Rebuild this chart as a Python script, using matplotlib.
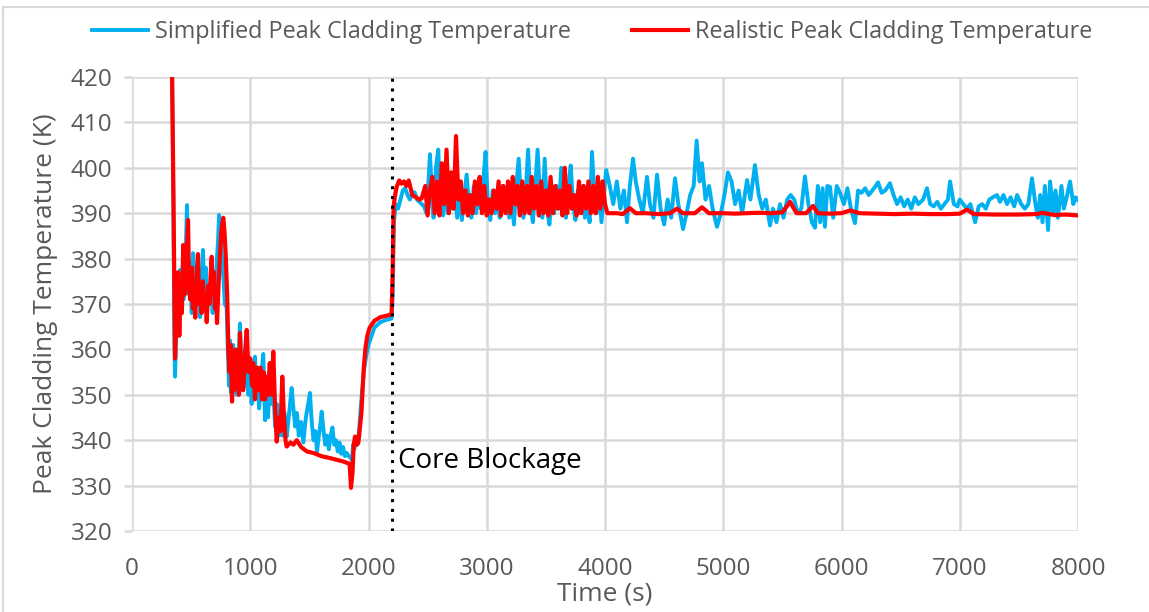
import matplotlib.pyplot as plt
from matplotlib.patches import Rectangle

# Simplified model: peak cladding temperature (K) vs time (s)
simplified_t = [
    336, 350, 358, 364, 372, 380, 390, 398, 406, 415, 425, 435, 445, 455, 465, 473,
    482, 492, 505, 516, 526, 536, 546, 556, 566, 575, 585, 600, 612, 624, 635, 646,
    658, 670, 682, 694, 706, 718, 728, 736, 745, 755, 765, 775, 785, 800, 810, 820,
    828, 836, 846, 855, 865, 875, 885, 895, 905, 913, 925, 935, 948, 960, 972, 985,
    1000, 1012, 1025, 1040, 1052, 1062, 1075, 1090, 1100, 1110, 1125, 1138, 1150,
    1165, 1180, 1195, 1210, 1225, 1240, 1255, 1270, 1290, 1308, 1325, 1350, 1365,
    1380, 1395, 1410, 1430, 1449, 1470, 1490, 1505, 1520, 1535, 1550, 1565, 1580,
    1595, 1604, 1620, 1635, 1650, 1665, 1680, 1695, 1710, 1725, 1740, 1755, 1770,
    1785, 1800, 1816, 1830, 1845, 1860, 1870, 1880, 1890, 1905, 1920, 1940, 1960,
    1980, 2000, 2050, 2100, 2150, 2195, 2205, 2215, 2230, 2250, 2270, 2290, 2310,
    2330, 2350, 2370, 2390, 2410, 2430, 2450, 2470, 2490, 2505, 2520, 2535, 2550,
    2570, 2590, 2610, 2630, 2650, 2670, 2690, 2710, 2730, 2750, 2770, 2790, 2810,
    2830, 2850, 2870, 2890, 2910, 2930, 2950, 2970, 2990, 3010, 3030, 3050, 3070,
    3090, 3110, 3130, 3150, 3170, 3190, 3210, 3230, 3250, 3270, 3290, 3310, 3330,
    3350, 3370, 3390, 3410, 3430, 3450, 3470, 3490, 3510, 3530, 3550, 3570, 3590,
    3610, 3630, 3650, 3670, 3690, 3710, 3730, 3750, 3770, 3790, 3810, 3830, 3850,
    3870, 3890, 3910, 3930, 3950, 3970, 3990, 4010, 4040, 4070, 4100, 4130, 4160,
    4186, 4210, 4237, 4260, 4290, 4320, 4355, 4380, 4410, 4440, 4470, 4500, 4530,
    4560, 4592, 4620, 4660, 4690, 4720, 4750, 4775, 4800, 4820, 4850, 4880, 4910,
    4947, 4980, 5010, 5040, 5070, 5100, 5130, 5160, 5201, 5230, 5268, 5300, 5330,
    5360, 5395, 5420, 5450, 5480, 5510, 5540, 5570, 5600, 5630, 5660, 5691, 5720,
    5750, 5776, 5800, 5820, 5840, 5860, 5880, 5903, 5930, 5960, 5987, 6020, 6050,
    6080, 6114, 6140, 6170, 6200, 6230, 6260, 6290, 6309, 6340, 6370, 6410, 6440,
    6470, 6500, 6530, 6560, 6590, 6620, 6650, 6690, 6723, 6750, 6780, 6810, 6840,
    6870, 6900, 6918, 6950, 6980, 7000, 7030, 7060, 7090, 7130, 7160, 7190, 7220,
    7250, 7280, 7315, 7340, 7370, 7400, 7430, 7460, 7485, 7520, 7550, 7580, 7611,
    7640, 7660, 7680, 7700, 7720, 7747, 7764, 7790, 7810, 7830, 7860, 7880, 7900,
    7933, 7960, 7980, 8000,
]
simplified_T = [
    428, 392, 362, 354, 362, 370, 364, 372, 377.5, 369, 376, 371, 378, 382, 391.8, 380,
    372, 379, 368, 381.2, 373, 378, 370, 376, 371, 367.1, 374, 381.9, 373, 378, 368, 374,
    370, 376, 368, 374, 372, 380, 384, 389.6, 387, 383, 378, 375, 370, 369.3, 360, 352,
    362, 350.5, 356, 361, 352, 357, 350, 356, 360, 365.7, 356, 351, 358, 352, 356, 350,
    355, 348, 356, 358.4, 351, 354, 347, 352, 356, 359, 344.4, 350, 345,
    353, 348, 351, 343, 348, 341, 345, 341, 346, 340.8, 345, 351.5, 347,
    343, 346, 341, 344, 339.5, 345, 348, 350.4, 344, 340, 342, 337.5, 341,
    344, 346.3, 342, 339, 341, 338, 341, 342.8, 339, 340, 337.5, 339.5, 337,
    338.5, 336.5, 337.2, 336.5, 336.3, 335.5, 339, 338, 340, 339, 342, 349, 355,
    358.5, 361, 364.8, 366, 366.5, 366.8, 372, 388, 392, 391, 393, 395, 395.5,
    394, 393, 394.5, 394.6, 393, 392.5, 392, 391.5, 390, 396, 403, 395, 389,
    400, 404, 391, 389.5, 396, 390, 398, 391, 395, 389, 393, 388.5, 394,
    398.5, 392, 389, 396, 390, 394, 391, 397, 403.5, 392, 388.5, 395, 390,
    393, 389, 396, 391, 394, 389, 393, 387.5, 396, 402, 393, 389, 395,
    404, 392, 388, 396, 404, 394, 389, 402, 391, 387.5, 394, 390, 396,
    391, 400, 393, 389, 396, 400.5, 392, 388.5, 395, 390, 396, 389, 393,
    388, 403.5, 394, 390, 396, 388, 394, 399.5, 396, 392, 397, 391, 395,
    388, 396, 402, 397, 393, 390, 398, 392, 389, 398.5, 391, 387.5, 393,
    389, 397.7, 392, 386.5, 390, 394, 396, 406, 397, 401, 393, 396, 391,
    387, 390, 394, 399, 397, 392, 395, 390, 397.3, 393, 400.6, 394, 391,
    393, 387.3, 391, 388, 392, 389, 393, 394, 393, 390, 391, 398.1, 392,
    388, 386.8, 396, 388, 395.5, 387, 396, 395.8, 389, 396, 394.5, 392, 395.5,
    391, 387.8, 395, 394.5, 395.5, 394, 395, 396, 396.8, 394.5, 395, 396.6, 394,
    392, 393.5, 391.5, 393, 391, 393.5, 392, 393, 395.5, 392, 391.5, 392.5, 391,
    392, 393, 397, 392, 391.5, 393, 392, 391, 392, 388, 391.5, 392, 391,
    393, 393.5, 394, 392.5, 394, 392, 393.5, 391.5, 394, 392, 391, 392, 397.7,
    392, 389, 394, 388, 396, 386.3, 397, 390, 395, 389, 396, 391, 393,
    397, 392, 393.5, 392.9,
]

# Realistic model: peak cladding temperature (K) vs time (s)
realistic_t = [
    336, 350, 364, 375, 390, 400, 412, 422, 433, 442, 450, 462, 474, 482, 492, 505,
    515, 525, 535, 545, 558, 568, 578, 589, 600, 612, 622, 632, 644, 655, 664, 674,
    684, 693, 702, 712, 719, 730, 742, 755, 765, 772, 782, 792, 805, 815, 825, 835,
    846, 855, 865, 875, 885, 895, 905, 913, 925, 941, 955, 970, 985, 1000, 1015,
    1025, 1040, 1055, 1070, 1085, 1100, 1112, 1125, 1138, 1150, 1165, 1180, 1195,
    1210, 1224, 1240, 1255, 1271, 1285, 1298, 1308, 1340, 1365, 1393, 1430, 1480,
    1533, 1600, 1700, 1787, 1840, 1852, 1865, 1875, 1886, 1900, 1914, 1940, 1960,
    1975, 1990, 2010, 2050, 2100, 2150, 2195, 2205, 2212, 2225, 2238, 2260, 2280,
    2300, 2320, 2340, 2370, 2400, 2430, 2450, 2480, 2500, 2520, 2540, 2560, 2580,
    2600, 2620, 2640, 2660, 2680, 2700, 2720, 2740, 2760, 2780, 2800, 2820, 2840,
    2860, 2880, 2900, 2920, 2940, 2960, 2980, 3000, 3020, 3040, 3060, 3080, 3100,
    3120, 3140, 3160, 3180, 3200, 3220, 3240, 3260, 3280, 3300, 3320, 3340, 3360,
    3380, 3400, 3420, 3440, 3460, 3480, 3500, 3520, 3540, 3560, 3580, 3600, 3620,
    3640, 3660, 3680, 3700, 3720, 3740, 3760, 3780, 3800, 3820, 3840, 3860, 3880,
    3900, 3920, 3940, 3960, 3980, 4000, 4020, 4100, 4150, 4211, 4260, 4350, 4450,
    4550, 4609, 4660, 4760, 4820, 4880, 5000, 5100, 5200, 5300, 5400, 5500, 5565,
    5620, 5700, 5759, 5800, 5900, 6000, 6072, 6150, 6300, 6450, 6600, 6750, 6900,
    7000, 7061, 7120, 7300, 7500, 7650, 7700, 7800, 7900, 8000,
]
realistic_T = [
    428, 395, 358, 367, 377, 363, 375, 368, 383, 372, 372.5, 380, 388.5, 375, 371, 378,
    369, 374, 367, 376, 381, 370, 374, 368, 375, 369, 372, 366, 374, 370, 376, 380.4,
    372, 377, 369, 372, 365.8, 373, 380, 386, 388, 389, 386, 381, 372, 360, 355, 361,
    348.5, 356, 351, 360, 353, 358, 350, 363.6, 353, 351, 359, 364.3, 355, 358, 352,
    357, 349, 356, 351, 356, 349, 355, 349, 354, 350, 357, 350, 359.5,
    347, 339.7, 345, 342, 354, 345, 340, 338.6, 339.5, 339, 340, 338.5, 337.5,
    337.2, 336.5, 335.9, 335.3, 334.8, 329.5, 333, 339, 340.8, 339, 339.4, 346, 356,
    360.5, 363, 364.8, 366.3, 367.1, 367.4, 367.7, 378, 391.4, 394, 395.8, 397.2, 396.5,
    397, 396, 397.2, 394, 393.5, 393, 393.3, 396, 389.5, 395, 398, 390, 397,
    389.5, 401, 392, 404, 390, 399, 391, 407, 393, 397, 390, 395, 389.5,
    394, 390, 397, 392, 398, 390, 396, 389.5, 393, 390, 395, 391, 397,
    389.5, 396, 390, 397, 390, 398, 392, 396, 389.5, 397, 390, 396, 390,
    398, 391, 396, 389.5, 397, 390, 395, 389.5, 398, 390, 396, 391, 395,
    389.5, 400, 390, 396, 391, 394, 389.5, 397, 390, 396, 391, 397, 390,
    396, 390, 398, 391, 397, 392, 390, 390, 389.8, 391.1, 390, 390, 389.8,
    390, 391, 390, 390, 391.3, 390, 390, 389.9, 390, 390.1, 390, 390.2, 392.5,
    390, 390, 391.6, 390, 389.9, 390, 390.6, 390, 389.9, 389.8, 389.9, 389.8, 389.8,
    389.9, 390.8, 389.8, 389.7, 389.7, 389.8, 390.1, 389.6, 389.7, 389.5,
]

blockage_time = 2200
x_ticks = [0, 1000, 2000, 3000, 4000, 5000, 6000, 7000, 8000]
y_ticks = [320, 330, 340, 350, 360, 370, 380, 390, 400, 410, 420]

plt.rcParams["font.family"] = ["Open Sans", "DejaVu Sans"]
label_color = "#595959"
grid_color = "#d9d9d9"

fig = plt.figure(figsize=(11.49, 6.12), dpi=100)
ax = fig.add_axes([132 / 1149, 1 - 531 / 612, (1078 - 132) / 1149, (531 - 77) / 612])

# outer chart border
fig.patches.append(Rectangle((3 / 1149, -0.05), 1.2, 1 - 7 / 612 + 0.05,
                             transform=fig.transFigure, fill=False,
                             edgecolor=grid_color, linewidth=1.5))

ax.plot(simplified_t, simplified_T, color="#00b0f0", lw=2.8,
        label="Simplified Peak Cladding Temperature", zorder=3)
ax.plot(realistic_t, realistic_T, color="#ff0000", lw=3.0,
        label="Realistic Peak Cladding Temperature", zorder=4)
ax.axvline(blockage_time, color="black", lw=2.2, ls=(0, (1, 2.2)), zorder=5)
ax.text(blockage_time + 50, 335.4, "Core Blockage", fontsize=20, va="center",
        ha="left", color="black")

ax.set_xlim(0, 8000)
ax.set_ylim(320, 420)
ax.set_xticks(x_ticks)
ax.set_yticks(y_ticks)
ax.grid(True, color=grid_color, lw=1.8, zorder=0)
ax.set_axisbelow(True)
for s in ax.spines.values():
    s.set_visible(False)
ax.tick_params(axis="y", length=6, width=1.8, color=grid_color, labelsize=17.5,
               labelcolor=label_color, pad=8)
ax.tick_params(axis="x", length=0, labelsize=17.5, labelcolor=label_color, pad=19)

ax.set_xlabel("Time (s)", fontsize=19, color=label_color, labelpad=0)
ax.set_ylabel("Peak Cladding Temperature (K)", fontsize=19, color=label_color,
              labelpad=9)

fig.legend(loc="center", bbox_to_anchor=(592 / 1149, 1 - 32 / 612), ncol=2,
           frameon=False, fontsize=16.8, handlelength=2.4, handletextpad=0.3,
           columnspacing=2.6, labelcolor=label_color)

fig.savefig("out.png", dpi=100)
